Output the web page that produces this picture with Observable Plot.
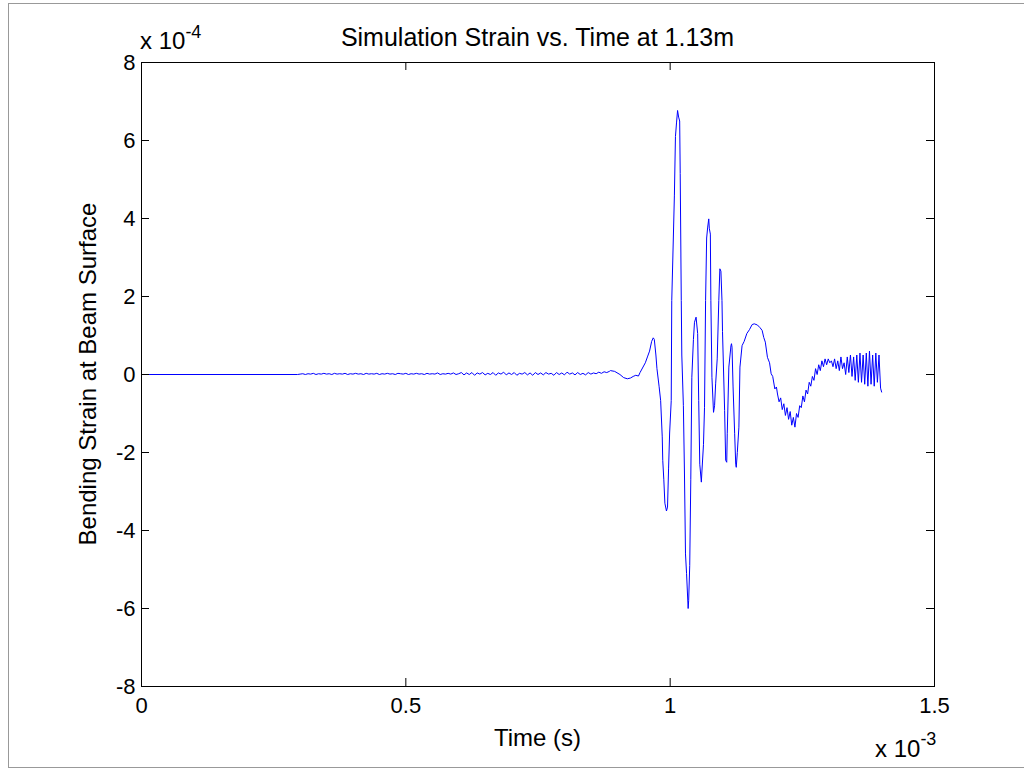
<!DOCTYPE html>
<html>
<head>
<meta charset="utf-8">
<script src="https://cdn.jsdelivr.net/npm/d3@7"></script>
<script src="https://cdn.jsdelivr.net/npm/@observablehq/plot@0.6"></script>
<style>
  html, body { margin: 0; padding: 0; background: #fff; }
  #wrap { position: relative; width: 1024px; height: 769px; overflow: hidden; }
  #border { position: absolute; left: 8px; top: 3px; width: 1100px; height: 763px; border-left: 1px solid #999; border-top: 1px solid #999; border-bottom: 1px solid #999; pointer-events: none; }
</style>
</head>
<body>
<div id="wrap"><div id="border"></div></div>
<script>
// Units: time in 1e-3 s, strain in 1e-4
const titleText = "Simulation Strain vs. Time at 1.13m";
const xLabel = "Time (s)";
const yLabel = "Bending Strain at Beam Surface";
const xTicks = [0, 0.5, 1, 1.5];
const yTicks = [-8, -6, -4, -2, 0, 2, 4, 6, 8];

// quiet lead-in (no signal yet)
const leadTime = [0, 0.295];
const leadStrain = [0, 0];

// low-level noise, sampled every noiseStep from noiseStart
const noiseStart = 0.30;
const noiseStep = 0.005;
const noiseStrain = [
  0.01, 0.02, 0.00, 0.02, 0.01, 0.03, 0.00, 0.02, 0.01, 0.03,
  0.01, 0.02, 0.00, 0.03, 0.01, 0.02, 0.01, 0.03, 0.00, 0.02,
  0.01, 0.03, 0.01, 0.02, 0.00, 0.03, 0.01, 0.02, 0.01, 0.03,
  0.00, 0.02, 0.01, 0.03, 0.01, 0.02, 0.00, 0.03, 0.02, 0.01,
  0.03, 0.00, 0.02, 0.01, 0.03, 0.01, 0.02, 0.00, 0.03, 0.01,
  0.02, 0.01, 0.04, 0.00, 0.02, 0.01, 0.03, 0.01, 0.04, 0.00,
  0.02,
  0.05, -0.01, 0.04, 0.00, 0.05, -0.02, 0.04, 0.01, 0.05, -0.01,
  0.03, 0.00, 0.05, -0.02, 0.04, 0.01, 0.06, -0.01, 0.04, 0.00,
  0.05, -0.02, 0.03, 0.01, 0.05, -0.01, 0.04, -0.02, 0.05, 0.00,
  0.04, -0.01, 0.05, 0.01, 0.03, -0.02, 0.05, 0.00, 0.04, -0.01,
  0.06, 0.01, 0.04, -0.01, 0.05, 0.00, 0.03, -0.01, 0.05, 0.01,
  0.04, 0.02, 0.06, 0.03, 0.07, 0.05, 0.08
];

// main wave arrival
const eventTime = [
  0.887, 0.895, 0.905, 0.912, 0.919, 0.925, 0.930, 0.935, 0.940, 0.943,
  0.953, 0.957, 0.961, 0.965, 0.968, 0.970, 0.973, 0.975, 0.979, 0.982,
  0.985, 0.986, 0.988, 0.990, 0.993, 0.995, 0.997, 0.999, 1.002, 1.003,
  1.006, 1.008, 1.010, 1.012, 1.014, 1.016, 1.018, 1.019, 1.021, 1.022,
  1.025, 1.027, 1.029, 1.031, 1.034, 1.035, 1.037, 1.039, 1.041, 1.044,
  1.046, 1.049, 1.052, 1.054, 1.056, 1.059, 1.060, 1.063, 1.065, 1.067,
  1.069, 1.071, 1.073, 1.074, 1.076, 1.077, 1.079, 1.082, 1.084, 1.086,
  1.089, 1.092, 1.094, 1.096, 1.098, 1.099, 1.103, 1.105, 1.107, 1.108,
  1.111, 1.115, 1.116, 1.117, 1.119, 1.122, 1.124, 1.125, 1.127, 1.130,
  1.132, 1.136, 1.140, 1.145, 1.150, 1.155, 1.159, 1.165, 1.170, 1.174,
  1.177, 1.180, 1.184, 1.188, 1.191, 1.194, 1.198, 1.201
];
const eventStrain = [
  0.10, 0.08, 0.00, -0.08, -0.11, -0.09, -0.05, -0.02, -0.04, 0.05,
  0.30, 0.45, 0.60, 0.85, 0.94, 0.90, 0.50, 0.15, -0.30, -0.67,
  -1.60, -2.20, -2.70, -3.30, -3.50, -3.40, -2.40, -1.50, -0.67, 1.90,
  3.50, 4.60, 6.10, 6.45, 6.77, 6.60, 6.50, 5.15, 1.90, 0.50,
  -0.80, -2.50, -4.60, -5.10, -6.00, -5.80, -4.90, -2.70, -0.07, 0.90,
  1.34, 1.47, 1.05, -0.67, -2.30, -2.76, -2.50, -1.80, -0.84, 1.90,
  3.50, 3.78, 3.99, 3.75, 3.60, 1.90, -0.07, -0.97, -0.80, -0.24,
  0.40, 1.90, 2.71, 2.65, 1.90, 1.10, -0.92, -2.20, -2.25, -1.52,
  0.19, 0.74, 0.79, 0.70, -0.32, -1.52, -2.30, -2.38, -2.00, -1.35,
  0.19, 0.74, 0.85, 1.05, 1.15, 1.28, 1.30, 1.27, 1.20, 1.13,
  0.95, 0.83, 0.44, 0.30, 0.02, -0.05, -0.37, -0.32
];

// ringing tail
const tailTime = [
  1.203, 1.206, 1.209, 1.212, 1.215, 1.218, 1.221, 1.224, 1.227, 1.230,
  1.233, 1.236, 1.239, 1.242, 1.245, 1.248, 1.251, 1.254, 1.257, 1.260,
  1.263, 1.266, 1.269, 1.272, 1.275, 1.278, 1.281, 1.284, 1.287, 1.290,
  1.293, 1.296, 1.299, 1.302, 1.305, 1.308, 1.311, 1.314, 1.317, 1.320,
  1.323, 1.326, 1.329, 1.332, 1.335, 1.338, 1.341, 1.344, 1.347, 1.350,
  1.353, 1.356, 1.359, 1.362, 1.365, 1.368, 1.371, 1.374, 1.377, 1.380,
  1.383, 1.386, 1.389, 1.392, 1.395, 1.398, 1.400
];
const tailStrain = [
  -0.50, -0.70, -0.60, -0.90, -0.75, -1.05, -0.85, -1.15, -0.95, -1.30,
  -1.10, -1.35, -1.00, -1.10, -0.80, -0.85, -0.55, -0.70, -0.40, -0.50,
  -0.20, -0.30, -0.05, -0.15, 0.15, 0.00, 0.25, 0.10, 0.35, 0.20,
  0.40, 0.25, 0.40, 0.30, 0.35, 0.20, 0.40, 0.15, 0.35, 0.10,
  0.45, 0.15, 0.30, 0.00, 0.45, 0.05, 0.50, -0.05, 0.45, -0.15,
  0.50, -0.20, 0.55, -0.20, 0.50, -0.25, 0.55, -0.30, 0.60, -0.25,
  0.50, -0.30, 0.55, -0.20, 0.50, -0.35, -0.45
];

// assemble table
const data = [];
leadTime.forEach((t, i) => data.push({t, s: leadStrain[i]}));
noiseStrain.forEach((s, i) => data.push({t: noiseStart + i * noiseStep, s}));
eventTime.forEach((t, i) => data.push({t, s: eventStrain[i]}));
tailTime.forEach((t, i) => data.push({t, s: tailStrain[i]}));

const W = 1024, H = 769;
const mL = 141, mR = 90, mT = 62, mB = 83;
const frameW = W - mL - mR, frameH = H - mT - mB;
const tickLen = 8;
const font = "'Liberation Sans', Arial, Helvetica, sans-serif";

const plot = Plot.plot({
  width: W, height: H,
  marginLeft: mL, marginRight: mR, marginTop: mT, marginBottom: mB,
  style: {fontFamily: font, fontSize: "22px", color: "#000", background: "transparent", overflow: "visible"},
  x: {domain: [0, 1.5]},
  y: {domain: [-8, 8]},
  marks: [
    Plot.line(data, {x: "t", y: "s", stroke: "#0000ff", strokeWidth: 1}),
    // inward tick marks on all four sides
    Plot.ruleX(xTicks, {x: d => d, insetTop: frameH - tickLen, stroke: "#000"}),
    Plot.ruleX(xTicks, {x: d => d, insetBottom: frameH - tickLen, stroke: "#000"}),
    Plot.ruleY(yTicks, {y: d => d, insetRight: frameW - tickLen, stroke: "#000"}),
    Plot.ruleY(yTicks, {y: d => d, insetLeft: frameW - tickLen, stroke: "#000"}),
    Plot.axisX(xTicks, {anchor: "bottom", tickSize: 0, tickPadding: 11, tickFormat: d => String(d), label: null, fill: "#000"}),
    Plot.axisY(yTicks, {anchor: "left", tickSize: 0, tickPadding: 6, tickFormat: d => String(d), label: null, fill: "#000"}),
    Plot.frame({stroke: "#000", strokeWidth: 1})
  ]
});

const svg = d3.select(plot);
svg.style("position", "absolute").style("left", "0px").style("top", "0px");
const sx = plot.scale("x"), sy = plot.scale("y");
const g = svg.append("g").attr("font-family", font).attr("fill", "#000").attr("text-anchor", "start");

// title
g.append("text").attr("x", (sx.apply(0) + sx.apply(1.5)) / 2).attr("y", 46)
  .attr("text-anchor", "middle").attr("font-size", 25).text(titleText);
// x label
g.append("text").attr("x", (sx.apply(0) + sx.apply(1.5)) / 2).attr("y", 746)
  .attr("text-anchor", "middle").attr("font-size", 24).text(xLabel);
// y label
g.append("text").attr("transform", `translate(96,${(sy.apply(-8) + sy.apply(8)) / 2}) rotate(-90)`)
  .attr("text-anchor", "middle").attr("font-size", 24).text(yLabel);
// exponent markers
const ey = g.append("text").attr("x", 140).attr("y", 49).attr("font-size", 24).attr("text-anchor", "start");
ey.append("tspan").text("x 10");
ey.append("tspan").attr("dy", -11).attr("font-size", 18).text("-4");
const ex = g.append("text").attr("x", 875).attr("y", 757).attr("font-size", 24).attr("text-anchor", "start");
ex.append("tspan").text("x 10");
ex.append("tspan").attr("dy", -12).attr("font-size", 18).text("-3");

document.getElementById("wrap").prepend(plot);
</script>
</body>
</html>
